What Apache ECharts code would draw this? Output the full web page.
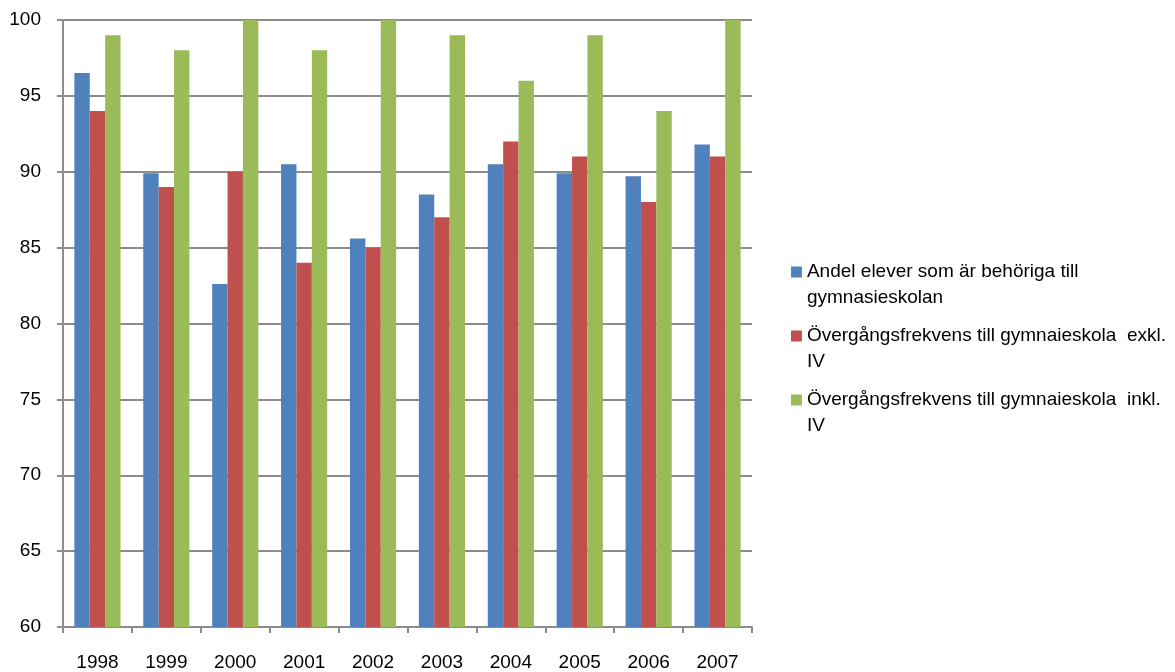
<!DOCTYPE html>
<html>
<head>
<meta charset="utf-8">
<script src="https://cdn.jsdelivr.net/npm/echarts@6/dist/echarts.min.js"></script>
<style>
  html, body { margin: 0; padding: 0; background: #fff; }
  #chart { width: 1175px; height: 672px; }
</style>
</head>
<body>
<div id="chart"></div>
<script>
const years = ['1998', '1999', '2000', '2001', '2002', '2003', '2004', '2005', '2006', '2007']
const behoriga = [96.5, 89.9, 82.6, 90.5, 85.6, 88.5, 90.5, 89.9, 89.7, 91.8]
const exklIV = [94, 89, 90, 84, 85, 87, 92, 91, 88, 91]
const inklIV = [99, 98, 100, 98, 100, 99, 96, 99, 94, 100]

const seriesNames = [
  'Andel elever som är behöriga till gymnasieskolan',
  'Övergångsfrekvens till gymnaieskola  exkl. IV',
  'Övergångsfrekvens till gymnaieskola  inkl. IV'
]
const legendLabels = {
  [seriesNames[0]]: 'Andel elever som är behöriga till\ngymnasieskolan',
  [seriesNames[1]]: 'Övergångsfrekvens till gymnaieskola  exkl.\nIV',
  [seriesNames[2]]: 'Övergångsfrekvens till gymnaieskola  inkl.\nIV'
}
const colors = ['#4F81BD', '#C0504D', '#9BBB59']

const font = 'Liberation Sans, Arial, sans-serif'
const gridColor = '#8c8c8c'
// square at the top, invisible point below: keeps the marker on the first text line
const legendIcon = 'path://M0,0L10,0L10,10L0,10Z M0,34L0.01,34'

const chart = echarts.init(document.getElementById('chart'))

chart.setOption({
  animation: false,
  color: colors,
  grid: { left: 63, right: 423, top: 20, bottom: 44 },
  legend: {
    orient: 'vertical',
    left: 786,
    top: 254,
    itemWidth: 11,
    itemHeight: 37,
    itemGap: 12,
    icon: legendIcon,
    formatter: name => legendLabels[name],
    textStyle: {
      fontFamily: font,
      fontSize: 19,
      color: '#000',
      lineHeight: 26
    },
    data: seriesNames
  },
  xAxis: {
    type: 'category',
    data: years,
    axisLine: { lineStyle: { color: gridColor, width: 2 } },
    axisTick: { show: true, length: 6, lineStyle: { color: gridColor, width: 2 } },
    axisLabel: { fontFamily: font, fontSize: 19, color: '#000', margin: 26 }
  },
  yAxis: {
    type: 'value',
    min: 60,
    max: 100,
    interval: 5,
    axisLine: { show: true, lineStyle: { color: gridColor, width: 2 } },
    axisTick: { show: true, length: 6, lineStyle: { color: gridColor, width: 2 } },
    axisLabel: { fontFamily: font, fontSize: 19, color: '#000', margin: 22 },
    splitLine: { lineStyle: { color: gridColor, width: 2 } }
  },
  series: [
    { name: seriesNames[0], type: 'bar', data: behoriga, barGap: '0%', barCategoryGap: '33%' },
    { name: seriesNames[1], type: 'bar', data: exklIV, barGap: '0%', barCategoryGap: '33%' },
    { name: seriesNames[2], type: 'bar', data: inklIV, barGap: '0%', barCategoryGap: '33%' }
  ]
})
</script>
</body>
</html>
